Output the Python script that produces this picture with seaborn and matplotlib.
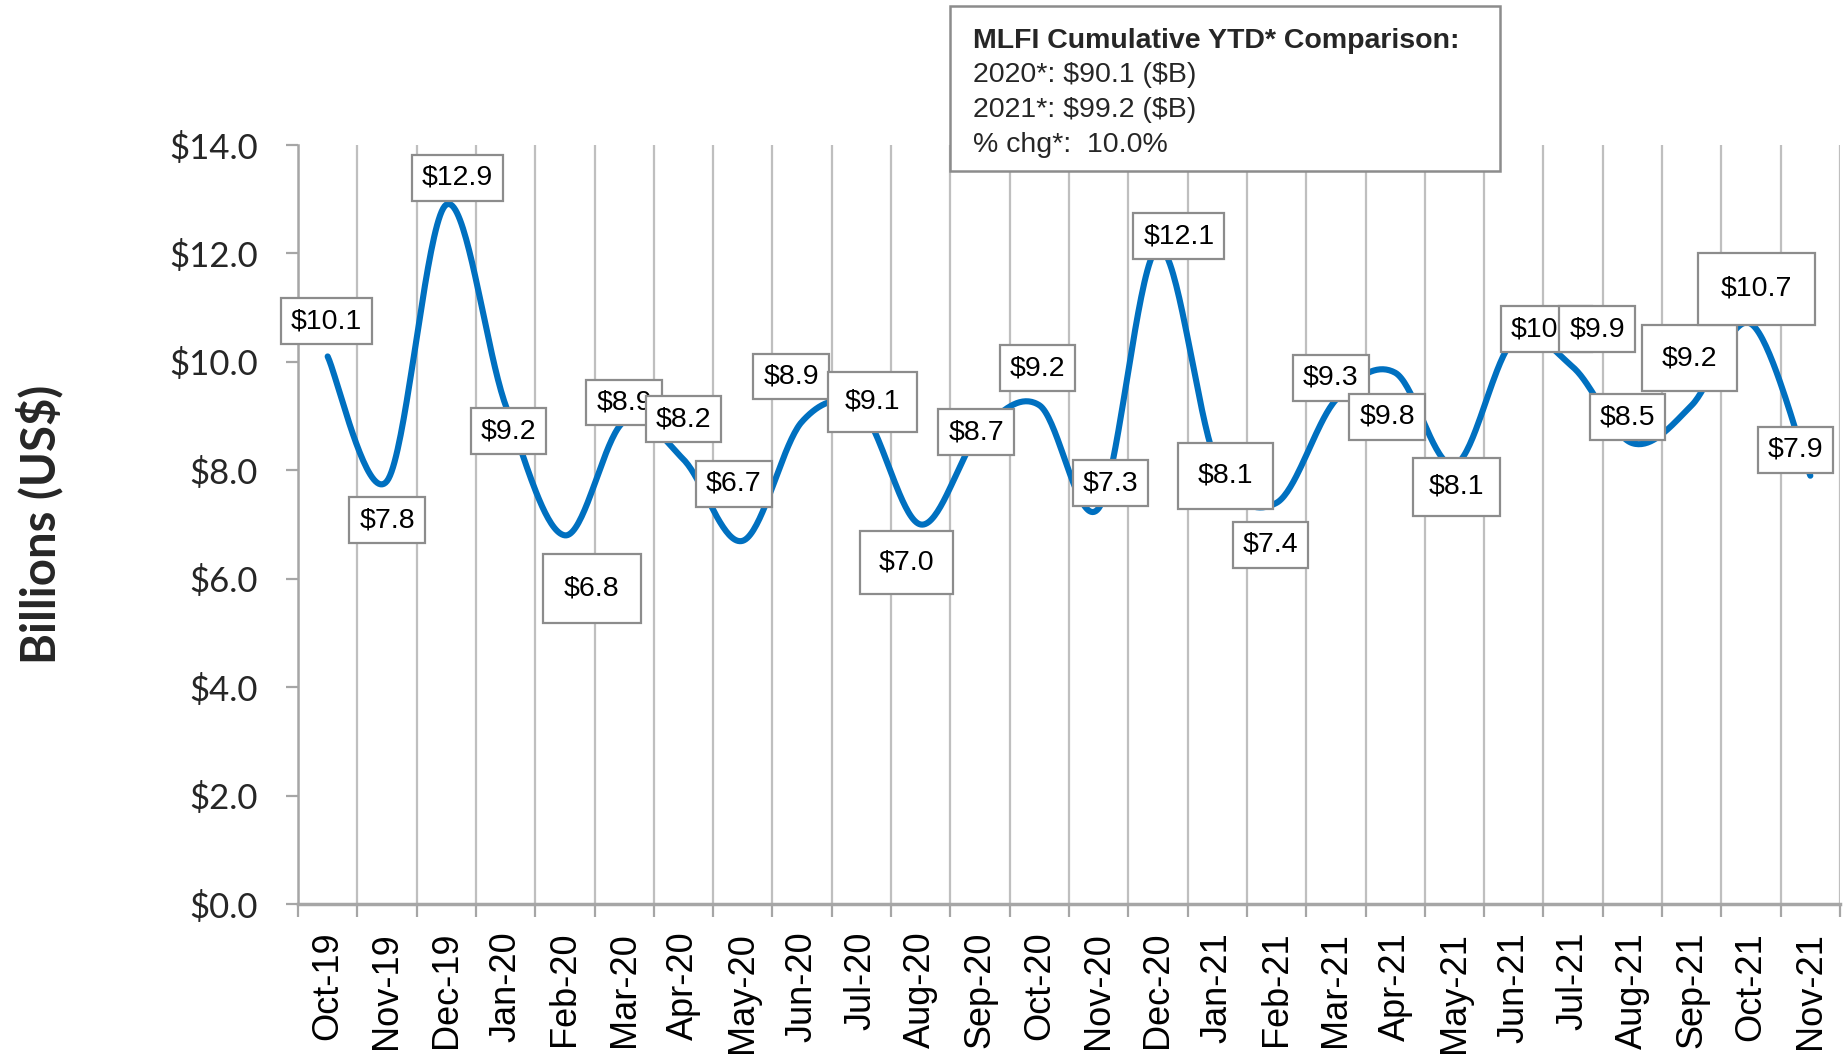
import numpy as np
import pandas as pd
import matplotlib
matplotlib.use("Agg")
import matplotlib.pyplot as plt
from matplotlib.patches import Rectangle
import seaborn as sns

# ---------------- data ----------------
months = ["Oct-19", "Nov-19", "Dec-19", "Jan-20", "Feb-20", "Mar-20", "Apr-20",
          "May-20", "Jun-20", "Jul-20", "Aug-20", "Sep-20", "Oct-20", "Nov-20",
          "Dec-20", "Jan-21", "Feb-21", "Mar-21", "Apr-21", "May-21", "Jun-21",
          "Jul-21", "Aug-21", "Sep-21", "Oct-21", "Nov-21"]
values = [10.1, 7.8, 12.9, 9.2, 6.8, 8.9, 8.2, 6.7, 8.9, 9.1, 7.0, 8.7, 9.2,
          7.3, 12.1, 8.1, 7.4, 9.3, 9.8, 8.1, 10.4, 9.9, 8.5, 9.2, 10.7, 7.9]
y_ticks = [0, 2, 4, 6, 8, 10, 12, 14]
y_label = "Billions (US$)"
summary_title = "MLFI Cumulative YTD* Comparison:"
summary_lines = ["2020*: $90.1 ($B)", "2021*: $99.2 ($B)", "% chg*:  10.0%"]

# label placement (pixel offsets from each point) and box padding
label_dx = [-1, 0, 11, 3, 27, 0, 0, -9, -11, 11, -14, -4, -2, 12, 21, 8, -6, -5, -8, 2, 33, 24, -5, -2, 5, -15]
label_dy = [35, -39, 27, -26, -53, 19, 40, 57, 45, 9, -38, 0, 37, 25, 12, -11, -42, 22, -44, -22, 11, 38, 26, 47, 35, 26]
label_pad = [0.35, 0.35, 0.35, 0.35, 0.75, 0.35, 0.35, 0.35, 0.35, 0.6, 0.65, 0.35, 0.35,
             0.35, 0.35, 0.7, 0.35, 0.35, 0.35, 0.55, 0.35, 0.35, 0.35, 0.7, 0.8, 0.35]

df = pd.DataFrame({"month": months, "value": values})
df["pos"] = np.arange(len(df))


def smooth_curve(xv, yv, n=40):
    P = np.column_stack([xv, yv]).astype(float)
    out = []
    for i in range(len(P) - 1):
        p0, p3 = P[i], P[i + 1]
        prev = P[i - 1] if i > 0 else P[i]
        nxt = P[i + 2] if i + 2 < len(P) else P[i + 1]
        c1 = p0 + (p3 - prev) / 6.0
        c2 = p3 - (nxt - p0) / 6.0
        t = np.linspace(0, 1, n)[:, None]
        seg = (1 - t) ** 3 * p0 + 3 * (1 - t) ** 2 * t * c1 + 3 * (1 - t) * t ** 2 * c2 + t ** 3 * p3
        out.append(seg if i == 0 else seg[1:])
    return np.vstack(out)


curve = smooth_curve(df["pos"].values, df["value"].values)
curve_df = pd.DataFrame({"x": curve[:, 0], "y": curve[:, 1]})

# ---------------- style ----------------
sns.set_theme(style="white")
plt.rcParams["font.family"] = ["Liberation Sans", "DejaVu Sans"]

fig = plt.figure(figsize=(18.49, 10.58), dpi=100)
ax = fig.add_axes([298 / 1849, 1 - 904 / 1058, (1840 - 298) / 1849, (904 - 145) / 1058])

grid_col = "#BFBFBF"
axis_col = "#A6A6A6"

sns.lineplot(data=curve_df, x="x", y="y", sort=False, estimator=None,
             color="#0070C0", linewidth=4.4, ax=ax, zorder=3)

ax.set_xlim(-0.5, len(months) - 0.5)
ax.set_ylim(0, 14)

# x axis: labels at centres, tick marks / gridlines at boundaries
ax.set_xticks(df["pos"])
ax.set_xticklabels(months, rotation=90, fontsize=26, family=["Liberation Sans"])
ax.set_xticks(np.arange(len(months) + 1) - 0.5, minor=True)
ax.tick_params(axis="x", which="major", length=0, pad=20, colors="black")
ax.tick_params(axis="x", which="minor", length=9, width=1.6, color=axis_col, bottom=True)
ax.xaxis.grid(True, which="minor", color=grid_col, linewidth=1.6, zorder=0)
ax.yaxis.grid(False)

# y axis
ax.set_yticks(y_ticks)
ax.set_yticklabels([f"${v:.1f}" for v in y_ticks], fontsize=25, family=["Lato"])
ax.tick_params(axis="y", which="major", length=9, width=1.6, color=axis_col, pad=20, left=True)

for s in ["top", "right"]:
    ax.spines[s].set_visible(False)
ax.spines["left"].set_color(axis_col)
ax.spines["left"].set_linewidth(1.8)
ax.spines["bottom"].set_color(axis_col)
ax.spines["bottom"].set_linewidth(2.5)
ax.set_xlabel("")
ax.set_ylabel("")

fig.text(40 / 1849, 1 - 524 / 1058, y_label, rotation=90, ha="center", va="center",
         fontsize=34, fontweight="bold", family=["Lato"], parse_math=False)

# data labels
for i, row in df.iterrows():
    ax.annotate(f"${row['value']:.1f}", (row["pos"], row["value"]),
                xytext=(label_dx[i], label_dy[i]), textcoords="offset pixels",
                ha="center", va="center", fontsize=20.5, color="black",
                family=["Liberation Sans"], zorder=5, annotation_clip=False,
                parse_math=False,
                bbox=dict(boxstyle=f"square,pad={label_pad[i]}", fc="white",
                          ec="#8C8C8C", lw=1.6))

# summary box
fig.patches.append(Rectangle((950 / 1849, 1 - 171 / 1058), 550 / 1849, 165 / 1058,
                             transform=fig.transFigure, facecolor="white",
                             edgecolor="#8C8C8C", linewidth=1.8, zorder=5))
tx = 973 / 1849
fig.text(tx, 1 - 40.5 / 1058, summary_title, fontsize=20.5, fontweight="bold",
         va="center", ha="left", zorder=6, parse_math=False)
for k, line in enumerate(summary_lines):
    fig.text(tx, 1 - (74.5 + 35.5 * k) / 1058, line, fontsize=20.5, va="center",
             ha="left", zorder=6, parse_math=False)

fig.savefig("out.png", dpi=100)
